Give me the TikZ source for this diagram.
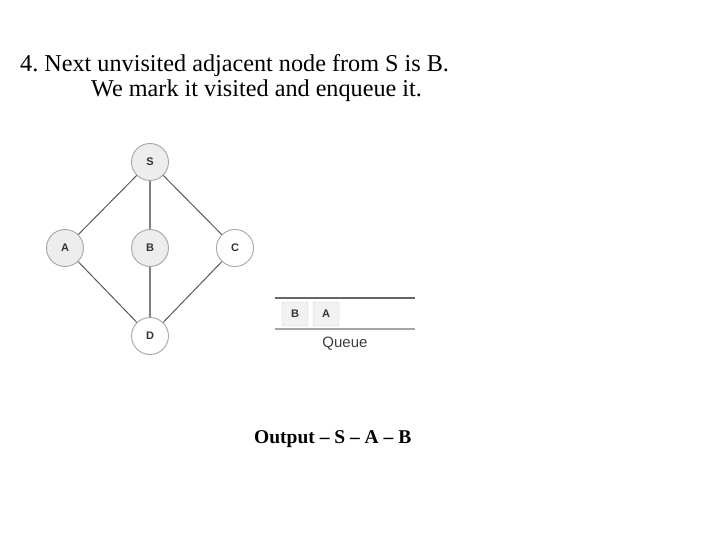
\documentclass[tikz,border=0pt]{standalone}
\usepackage{fontspec}
\setmainfont{Liberation Serif}
\newfontfamily\labelfont{Liberation Sans}
\frenchspacing
\begin{document}
\begin{tikzpicture}[x=1pt, y=-1pt,
    nodeStyle/.style={circle, draw=gray!70, line width=0.9pt, minimum size=37pt, inner sep=0pt, font=\labelfont\bfseries\fontsize{11}{11}\selectfont, text=black!80},
    seenStyle/.style={nodeStyle, fill=gray!14},
    queueStyle/.style={draw=gray!40, fill=gray!10, rounded corners=2pt, minimum width=26pt, minimum height=24pt, inner sep=0pt, font=\labelfont\bfseries\fontsize{11}{11}\selectfont, text=black!80},
    edgeStyle/.style={draw=gray!70!black, line width=1pt}]
    \useasboundingbox (0,0) rectangle (720,540);

    \node[anchor=base west, inner sep=0pt, font=\fontsize{24.2}{28}\selectfont](line1) at (20, 72) {4. Next unvisited adjacent node from S is B.};
    \node[anchor=base west, inner sep=0pt, font=\fontsize{24.2}{28}\selectfont](line2) at (91, 97) {We mark it visited and enqueue it.};

    \node[seenStyle](S) at (150, 162) {S};
    \node[seenStyle](A) at ( 65, 248) {A};
    \node[seenStyle](B) at (150, 248) {B};
    \node[nodeStyle](C) at (235, 248) {C};
    \node[nodeStyle](D) at (150, 336) {D};

    \draw[edgeStyle] (S) -- (A);
    \draw[edgeStyle, draw=gray, line width=1.6pt] (S) -- (B);
    \draw[edgeStyle] (S) -- (C);
    \draw[edgeStyle] (A) -- (D);
    \draw[edgeStyle, draw=gray, line width=1.6pt] (B) -- (D);
    \draw[edgeStyle] (C) -- (D);

    \coordinate (qtl) at (275, 298);
    \coordinate (qtr) at (415, 298);
    \coordinate (qbl) at (275, 329);
    \coordinate (qbr) at (415, 329);
    \draw[gray!80!black, line width=2pt] (qtl) -- (qtr);
    \draw[gray!70, line width=1.5pt] (qbl) -- (qbr);
    \node[queueStyle](qB) at (295, 314) {B};
    \node[queueStyle](qA) at (326, 314) {A};
    \node[font=\labelfont\fontsize{15}{15}\selectfont, text=black!75](queue) at (345, 344) {Queue};

    \node[anchor=base west, inner sep=0pt, font=\bfseries\fontsize{19.5}{22}\selectfont](output) at (254, 443) {Output -- S -- A -- B};
\end{tikzpicture}
\end{document}
